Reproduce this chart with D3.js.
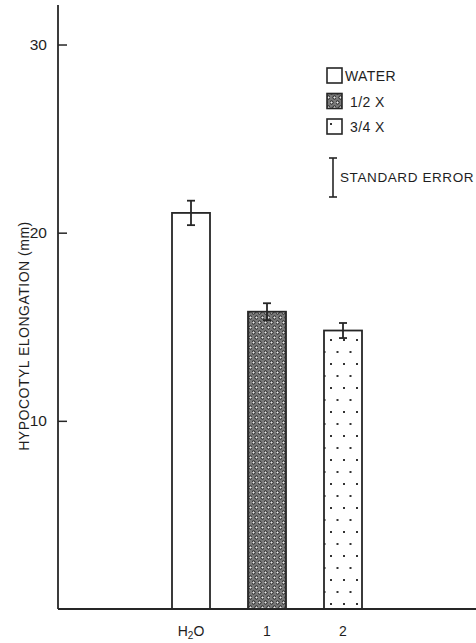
<!DOCTYPE html>
<head>
<meta charset="utf-8">
<style>
body { margin: 0; background: #fff; }
svg { display: block; }
text { font-family: "Liberation Sans", Arial, sans-serif; fill: #1e1e1e; }
</style>
</head>
<body>
<svg width="476" height="643"></svg>
<script src="https://cdn.jsdelivr.net/npm/d3@7"></script>
<script>
// data
var categories = ["H2O", "1", "2"];
var means = [21.05, 15.8, 14.8];
var errors = [0.65, 0.45, 0.4];
var fills = ["water", "half", "threeq"];
var legendNames = ["WATER", "1/2 X", "3/4 X"];
var yTicks = [10, 20, 30];

var svg = d3.select("svg");
var ink = "#262626";

// patterns for the hatched bars
var defs = svg.append("defs");
var half = defs.append("pattern")
    .attr("id", "half")
    .attr("patternUnits", "userSpaceOnUse")
    .attr("width", 6).attr("height", 10);
half.append("rect").attr("width", 6).attr("height", 10).attr("fill", "#7a7a7a");
[[1.5, 2.5], [4.5, 7.5], [4.5, -2.5], [1.5, 12.5]].forEach(function(p){
  half.append("circle").attr("cx", p[0]).attr("cy", p[1]).attr("r", 1.6)
    .attr("fill", "#eaeaea").attr("stroke", "#151515").attr("stroke-width", 1);
});

var dots = defs.append("pattern")
    .attr("id", "threeq")
    .attr("patternUnits", "userSpaceOnUse")
    .attr("width", 13).attr("height", 24)
    .attr("x", 2).attr("y", 0);
dots.append("rect").attr("width", 13).attr("height", 24).attr("fill", "#fff");
dots.append("rect").attr("x", 3).attr("y", 3).attr("width", 2).attr("height", 2).attr("fill", "#333");
dots.append("rect").attr("x", 9.5).attr("y", 15).attr("width", 2).attr("height", 2).attr("fill", "#333");

function fillOf(k){ return k === "water" ? "#fff" : "url(#" + k + ")"; }

var x = d3.scaleBand()
    .domain(categories)
    .range([153, 381])
    .paddingInner(0.5)
    .paddingOuter(0.25);

var y = d3.scaleLinear()
    .domain([0, 32.1])
    .range([609, 5]);

// bars
svg.append("g").selectAll("rect")
  .data(categories)
  .enter().append("rect")
    .attr("x", function(d){ return x(d); })
    .attr("y", function(d, i){ return y(means[i]); })
    .attr("width", x.bandwidth())
    .attr("height", function(d, i){ return y(0) - y(means[i]); })
    .attr("fill", function(d, i){ return fillOf(fills[i]); })
    .attr("stroke", ink)
    .attr("stroke-width", 1.8);

// error bars
var eb = svg.append("g").attr("stroke", ink).attr("stroke-width", 1.8);
categories.forEach(function(c, i){
  var cx = x(c) + x.bandwidth() / 2;
  eb.append("line").attr("x1", cx).attr("x2", cx)
    .attr("y1", y(means[i] - errors[i])).attr("y2", y(means[i] + errors[i]));
  [means[i] - errors[i], means[i] + errors[i]].forEach(function(v){
    eb.append("line").attr("x1", cx - 4).attr("x2", cx + 4)
      .attr("y1", y(v)).attr("y2", y(v));
  });
});

// axes
svg.append("line").attr("x1", 58).attr("x2", 58)
  .attr("y1", y(32.1)).attr("y2", y(0))
  .attr("stroke", ink).attr("stroke-width", 1.8);
svg.append("line").attr("x1", 58).attr("x2", 476)
  .attr("y1", y(0)).attr("y2", y(0))
  .attr("stroke", ink).attr("stroke-width", 1.8);

var yAxis = svg.append("g")
    .attr("transform", "translate(58,0)")
    .call(d3.axisRight(y).tickValues(yTicks).tickSize(9).tickFormat(""));
yAxis.select(".domain").remove();
yAxis.selectAll("line").attr("stroke", ink).attr("stroke-width", 1.5);

svg.append("g").selectAll("text")
  .data(yTicks)
  .enter().append("text")
    .attr("x", 47)
    .attr("y", function(d){ return y(d) + 5.5; })
    .attr("text-anchor", "end")
    .attr("font-size", 15.5)
    .text(function(d){ return d; });

// x labels
var xl = svg.append("g");
categories.forEach(function(c){
  var t = xl.append("text")
    .attr("x", x(c) + x.bandwidth() / 2)
    .attr("y", 636)
    .attr("text-anchor", "middle")
    .attr("font-size", 14);
  if (c === "H2O") {
    t.append("tspan").text("H");
    t.append("tspan").attr("font-size", 10).attr("dy", 3).text("2");
    t.append("tspan").attr("dy", -3).text("O");
  } else {
    t.text(c);
  }
});

// y axis title
svg.append("text")
  .attr("transform", "translate(29,336) rotate(-90)")
  .attr("text-anchor", "middle")
  .attr("font-size", 14)
  .attr("letter-spacing", 0.5)
  .text("HYPOCOTYL  ELONGATION (mm)");

// legend
var lg = svg.append("g");
legendNames.forEach(function(n, i){
  var ly = 68 + i * 25.5;
  lg.append("rect").attr("x", 327).attr("y", ly).attr("width", 15).attr("height", 15)
    .attr("fill", fillOf(fills[i])).attr("stroke", ink).attr("stroke-width", 1.6);
  lg.append("text").attr("x", i === 0 ? 345 : 350).attr("y", ly + 13)
    .attr("font-size", 14).attr("letter-spacing", 0.4).text(n);
});
lg.append("line").attr("x1", 333).attr("x2", 333).attr("y1", 158).attr("y2", 197)
  .attr("stroke", ink).attr("stroke-width", 1.6);
[158, 197].forEach(function(v){
  lg.append("line").attr("x1", 329).attr("x2", 337).attr("y1", v).attr("y2", v)
    .attr("stroke", ink).attr("stroke-width", 1.6);
});
lg.append("text").attr("x", 340).attr("y", 182)
  .attr("font-size", 13.5).attr("letter-spacing", 0.6).text("STANDARD ERROR");
</script>
</body>
</html>
